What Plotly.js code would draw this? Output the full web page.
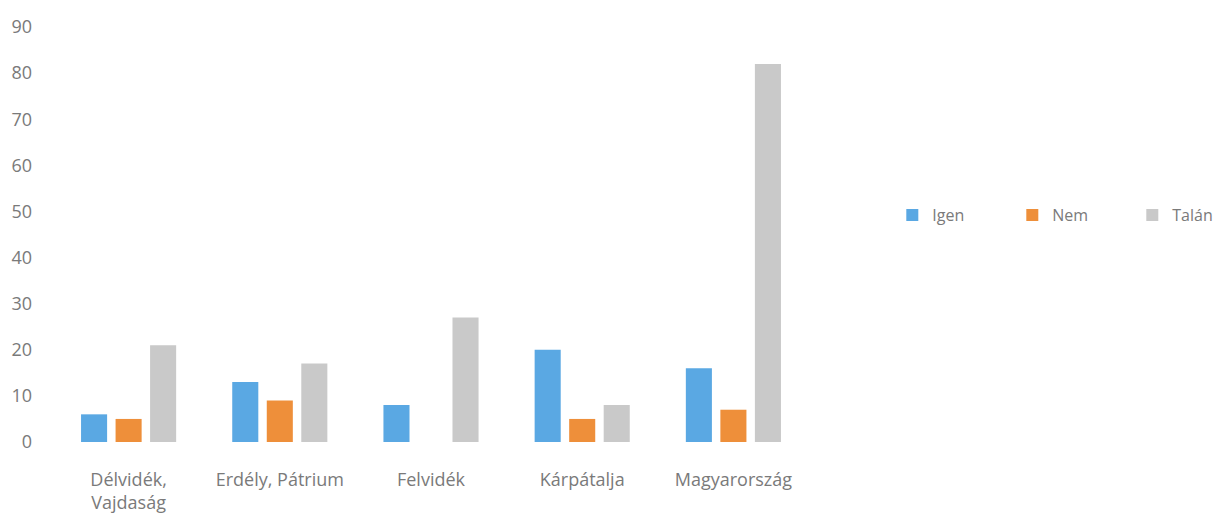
<!DOCTYPE html>
<html>
<head>
<meta charset="utf-8">
<script src="https://cdn.plot.ly/plotly-3.0.1.min.js"></script>
<style>html,body{margin:0;padding:0;background:#fff;}#chart{width:1219px;height:524px;}</style>
</head>
<body>
<div id="chart"></div>
<script>
var categories = ["Délvidék,<br>Vajdaság", "Erdély, Pátrium", "Felvidék", "Kárpátalja", "Magyarország"];
var igen = [6, 13, 8, 20, 16];
var nem = [5, 9, 0, 5, 7];
var talan = [21, 17, 27, 8, 82];
var yTicks = [0, 10, 20, 30, 40, 50, 60, 70, 80, 90];

var fam = "Open Sans, Liberation Sans, sans-serif";
var tickFont = {family: fam, size: 18, color: "#7a7a7a"};

var traces = [
  {type: "bar", name: "Igen", x: categories, y: igen, marker: {color: "#5aa8e3", line: {width: 0}}},
  {type: "bar", name: "Nem", x: categories, y: nem, marker: {color: "#ee8f3a", line: {width: 0}}},
  {type: "bar", name: "Talán", x: categories, y: talan, marker: {color: "#c9c9c9", line: {width: 0}}}
];

var layout = {
  width: 1219, height: 524,
  margin: {l: 53, r: 410, t: 27, b: 82, autoexpand: false},
  paper_bgcolor: "#ffffff", plot_bgcolor: "#ffffff",
  font: tickFont,
  barmode: "group",
  bargap: 0.315,
  bargroupgap: 0.245,
  showlegend: true,
  legend: {
    orientation: "h", xref: "container", x: 0.732, xanchor: "left",
    y: 0.547, yanchor: "middle",
    entrywidth: 75, entrywidthmode: "pixels",
    font: {family: fam, size: 16, color: "#7a7a7a"},
    itemwidth: 30
  },
  xaxis: {
    type: "category", showgrid: false, zeroline: false, showline: false,
    ticks: "", tickfont: tickFont, ticklabelstandoff: 25
  },
  yaxis: {
    range: [0, 90], tickvals: yTicks, ticktext: yTicks.map(String),
    showgrid: false, zeroline: false, showline: false, ticks: "",
    tickfont: tickFont, ticklabelstandoff: 20
  }
};

Plotly.newPlot("chart", traces, layout, {displayModeBar: false, staticPlot: true});
</script>
</body>
</html>
